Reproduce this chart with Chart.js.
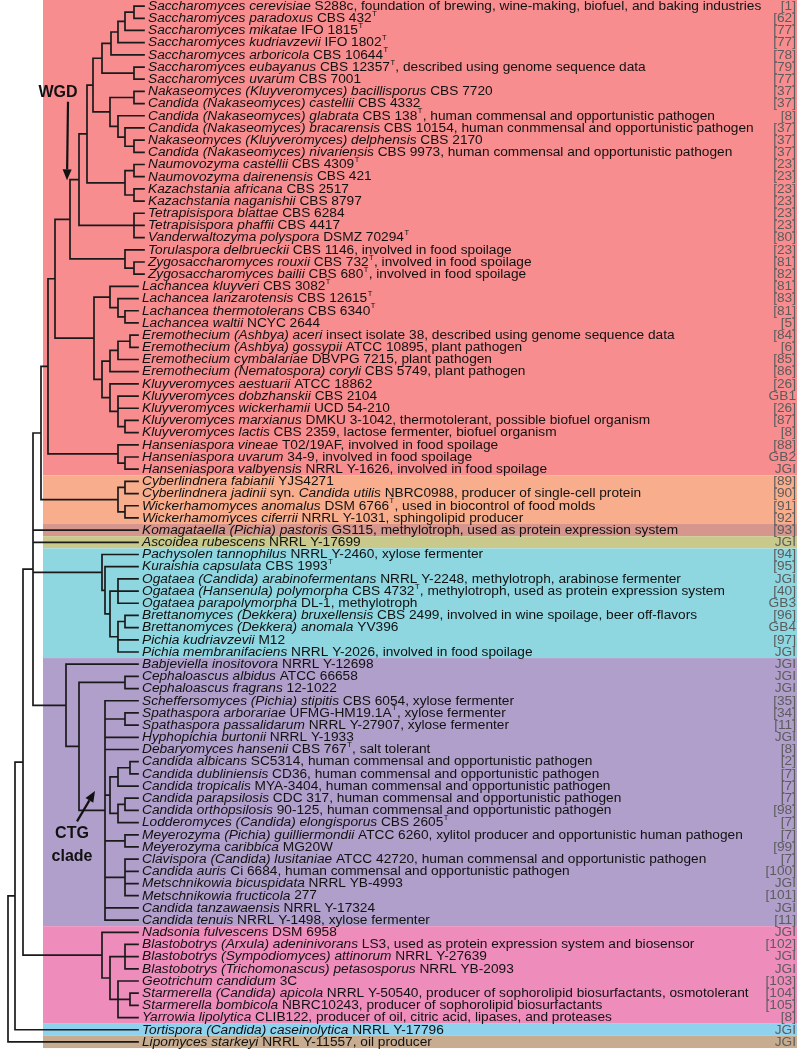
<!DOCTYPE html>
<html>
<head>
<meta charset="utf-8">
<script src="https://cdn.jsdelivr.net/npm/chart.js@4.4.1/dist/chart.umd.min.js"></script>
<style>
html, body { margin: 0; padding: 0; background: #fff; }
#wrap { width: 800px; height: 1050px; }
</style>
</head>
<body>
<div id="wrap"><canvas id="tree" width="800" height="1050"></canvas></div>
<script>
// leaf labels, *...* = italic, ^T = type strain superscript
const species = [
    '*Saccharomyces cerevisiae* S288c, foundation of brewing, wine-making, biofuel, and baking industries',
    '*Saccharomyces paradoxus* CBS 432^T',
    '*Saccharomyces mikatae* IFO 1815^T',
    '*Saccharomyces kudriavzevii* IFO 1802^T',
    '*Saccharomyces arboricola* CBS 10644^T',
    '*Saccharomyces eubayanus* CBS 12357^T, described using genome sequence data',
    '*Saccharomyces uvarum* CBS 7001',
    '*Nakaseomyces (Kluyveromyces) bacillisporus* CBS 7720',
    '*Candida (Nakaseomyces) castellii* CBS 4332',
    '*Candida (Nakaseomyces) glabrata* CBS 138^T, human commensal and opportunistic pathogen',
    '*Candida (Nakaseomyces) bracarensis* CBS 10154, human conmmensal and opportunistic pathogen',
    '*Nakaseomyces (Kluyveromyces) delphensis* CBS 2170',
    '*Candida (Nakaseomyces) nivariensis* CBS 9973, human commensal and opportunistic pathogen',
    '*Naumovozyma castellii* CBS 4309^T',
    '*Naumovozyma dairenensis* CBS 421',
    '*Kazachstania africana* CBS 2517',
    '*Kazachstania naganishii* CBS 8797',
    '*Tetrapisispora blattae* CBS 6284',
    '*Tetrapisispora phaffii* CBS 4417',
    '*Vanderwaltozyma polyspora* DSMZ 70294^T',
    '*Torulaspora delbrueckii* CBS 1146, involved in food spoilage',
    '*Zygosaccharomyces rouxii* CBS 732^T, involved in food spoilage',
    '*Zygosaccharomyces bailii* CBS 680^T, involved in food spoilage',
    '*Lachancea kluyveri* CBS 3082^T',
    '*Lachancea lanzarotensis* CBS 12615^T',
    '*Lachancea thermotolerans* CBS 6340^T',
    '*Lachancea waltii* NCYC 2644',
    '*Eremothecium (Ashbya) aceri* insect isolate 38, described using genome sequence data',
    '*Eremothecium (Ashbya) gossypii* ATCC 10895, plant pathogen',
    '*Eremothecium cymbalariae* DBVPG 7215, plant pathogen',
    '*Eremothecium (Nematospora) coryli* CBS 5749, plant pathogen',
    '*Kluyveromyces aestuarii* ATCC 18862',
    '*Kluyveromyces dobzhanskii* CBS 2104',
    '*Kluyveromyces wickerhamii* UCD 54-210',
    '*Kluyveromyces marxianus* DMKU 3-1042, thermotolerant, possible biofuel organism',
    '*Kluyveromyces lactis* CBS 2359, lactose fermenter, biofuel organism',
    '*Hanseniaspora vineae* T02/19AF, involved in food spoilage',
    '*Hanseniaspora uvarum* 34-9, involved in food spoilage',
    '*Hanseniaspora valbyensis* NRRL Y-1626, involved in food spoilage',
    '*Cyberlindnera fabianii* YJS4271',
    '*Cyberlindnera jadinii* syn. *Candida utilis* NBRC0988, producer of single-cell protein',
    '*Wickerhamomyces anomalus* DSM 6766^T, used in biocontrol of food molds',
    '*Wickerhamomyces ciferrii* NRRL Y-1031, sphingolipid producer',
    '*Komagataella (Pichia) pastoris* GS115, methylotroph, used as protein expression system',
    '*Ascoidea rubescens* NRRL Y-17699',
    '*Pachysolen tannophilus* NRRL Y-2460, xylose fermenter',
    '*Kuraishia capsulata* CBS 1993^T',
    '*Ogataea (Candida) arabinofermentans* NRRL Y-2248, methylotroph, arabinose fermenter',
    '*Ogataea (Hansenula) polymorpha* CBS 4732^T, methylotroph, used as protein expression system',
    '*Ogataea parapolymorpha* DL-1, methylotroph',
    '*Brettanomyces (Dekkera) bruxellensis* CBS 2499, involved in wine spoilage, beer off-flavors',
    '*Brettanomyces (Dekkera) anomala* YV396',
    '*Pichia kudriavzevii* M12',
    '*Pichia membranifaciens* NRRL Y-2026, involved in food spoilage',
    '*Babjeviella inositovora* NRRL Y-12698',
    '*Cephaloascus albidus* ATCC 66658',
    '*Cephaloascus fragrans* 12-1022',
    '*Scheffersomyces (Pichia) stipitis* CBS 6054, xylose fermenter',
    '*Spathaspora arborariae* UFMG-HM19.1A^T, xylose fermenter',
    '*Spathaspora passalidarum* NRRL Y-27907, xylose fermenter',
    '*Hyphopichia burtonii* NRRL Y-1933',
    '*Debaryomyces hansenii* CBS 767^T, salt tolerant',
    '*Candida albicans* SC5314, human commensal and opportunistic pathogen',
    '*Candida dubliniensis* CD36, human commensal and opportunistic pathogen',
    '*Candida tropicalis* MYA-3404, human commensal and opportunistic pathogen',
    '*Candida parapsilosis* CDC 317, human commensal and opportunistic pathogen',
    '*Candida orthopsilosis* 90-125, human commensal and opportunistic pathogen',
    '*Lodderomyces (Candida) elongisporus* CBS 2605^T',
    '*Meyerozyma (Pichia) guilliermondii* ATCC 6260, xylitol producer and opportunistic human pathogen',
    '*Meyerozyma caribbica* MG20W',
    '*Clavispora (Candida) lusitaniae* ATCC 42720, human commensal and opportunistic pathogen',
    '*Candida auris* Ci 6684, human commensal and opportunistic pathogen',
    '*Metschnikowia bicuspidata* NRRL YB-4993',
    '*Metschnikowia fructicola* 277',
    '*Candida tanzawaensis* NRRL Y-17324',
    '*Candida tenuis* NRRL Y-1498, xylose fermenter',
    '*Nadsonia fulvescens* DSM 6958',
    '*Blastobotrys (Arxula) adeninivorans* LS3, used as protein expression system and biosensor',
    '*Blastobotrys (Sympodiomyces) attinorum* NRRL Y-27639',
    '*Blastobotrys (Trichomonascus) petasosporus* NRRL YB-2093',
    '*Geotrichum candidum* 3C',
    '*Starmerella (Candida) apicola* NRRL Y-50540, producer of sophorolipid biosurfactants, osmotolerant',
    '*Starmerella bombicola* NBRC10243, producer of sophorolipid biosurfactants',
    '*Yarrowia lipolytica* CLIB122, producer of oil, citric acid, lipases, and proteases',
    '*Tortispora (Candida) caseinolytica* NRRL Y-17796',
    '*Lipomyces starkeyi* NRRL Y-11557, oil producer'
];

const refs = [
    '[1]', '[62]', '[77]', '[77]', '[78]', '[79]', '[77]', '[37]', '[37]', '[8]',
    '[37]', '[37]', '[37]', '[23]', '[23]', '[23]', '[23]', '[23]', '[23]', '[80]',
    '[23]', '[81]', '[82]', '[81]', '[83]', '[81]', '[5]', '[84]', '[6]', '[85]',
    '[86]', '[26]', 'GB1', '[26]', '[87]', '[8]', '[88]', 'GB2', 'JGI', '[89]',
    '[90]', '[91]', '[92]', '[93]', 'JGI', '[94]', '[95]', 'JGI', '[40]', 'GB3',
    '[96]', 'GB4', '[97]', 'JGI', 'JGI', 'JGI', 'JGI', '[35]', '[34]', '[11]',
    'JGI', '[8]', '[2]', '[7]', '[7]', '[7]', '[98]', '[7]', '[7]', '[99]',
    '[7]', '[100]', 'JGI', '[101]', 'JGI', '[11]', 'JGI', '[102]', 'JGI', 'JGI',
    '[103]', '[104]', '[105]', '[8]', 'JGI', 'JGI'
];

// x position of each leaf tip
const tipDepth = [
    144, 144, 144, 144, 144, 144, 144, 144, 144, 144,
    144, 144, 144, 144, 144, 144, 144, 144, 144, 144,
    144, 144, 144, 138, 138, 138, 138, 138, 138, 138,
    138, 138, 138, 138, 138, 138, 138, 138, 138, 138,
    138, 138, 138, 138, 138, 138, 138, 138, 138, 138,
    138, 138, 138, 138, 138, 138, 138, 138, 138, 138,
    138, 138, 138, 138, 138, 138, 138, 138, 138, 138,
    138, 138, 138, 138, 138, 138, 138, 138, 138, 138,
    138, 138, 138, 138, 138, 138
];

// internal nodes: [id, x position, children (leaf numbers or node ids)]
const nodes = [
    ['s1', 134, [1, 2]], ['s2', 125, ['s1', 3]], ['s3', 118, ['s2', 4]], ['s4', 111, ['s3', 5]],
    ['s5', 134, [6, 7]], ['s6', 102, ['s4', 's5']],
    ['n1', 134, [8, 9]], ['n2', 134, [12, 13]], ['n3', 125, [11, 'n2']], ['n4', 118, [10, 'n3']],
    ['n5', 110, ['n1', 'n4']], ['b', 93, ['s6', 'n5']],
    ['k1', 134, [14, 15]], ['k2', 134, [16, 17]], ['k3', 125, ['k1', 'k2']], ['c', 87, ['b', 'k3']],
    ['t1', 134, [18, 19, 20]], ['wgd', 79, ['c', 't1']],
    ['z1', 134, [22, 23]], ['z2', 125, [21, 'z1']], ['e', 70, ['wgd', 'z2']],
    ['l1', 125, [26, 27]], ['l2', 118, [25, 'l1']], ['l3', 110, [24, 'l2']],
    ['er1', 130, [28, 29]], ['er2', 118, ['er1', 30]], ['er3', 110, ['er2', 31]],
    ['kl1', 125, [35, 36]], ['kl2', 118, [33, 34, 'kl1']], ['kl3', 110, [32, 'kl2']],
    ['ek', 102, ['er3', 'kl3']], ['le', 94, ['l3', 'ek']], ['f', 55, ['e', 'le']],
    ['h1', 125, [38, 39]], ['h2', 118, [37, 'h1']], ['g', 48, ['f', 'h2']],
    ['cy1', 125, [40, 41]], ['cy2', 125, [42, 43]], ['cy3', 118, ['cy1', 'cy2']], ['h', 41, ['g', 'cy3']],
    ['og', 118, [48, 49, 50]], ['br', 125, [51, 52]], ['pi', 118, ['br', 53, 54]],
    ['pA', 110, ['og', 'pi']], ['pB', 105, [47, 'pA']], ['pich', 102, [46, 'pB']],
    ['ce', 125, [56, 57]], ['sp', 125, [59, 60]], ['a1', 130, [63, 64]], ['a2', 118, ['a1', 65]],
    ['p1', 125, [66, 67]], ['p2', 118, ['p1', 68]], ['a3', 110, ['a2', 'p2']],
    ['m', 125, [69, 70]], ['cl', 125, [71, 72, 73, 74]],
    ['R', 105, [58, 'sp', 61, 62, 'a3', 'm', 'cl', 75, 76]], ['Q', 79, ['ce', 'R']], ['ctg', 66, [55, 'Q']],
    ['P33', 33, ['h', 44, 45, 'pich', 'ctg']],
    ['bl', 125, [78, 79, 80]], ['st', 130, [82, 83]], ['y1', 118, [81, 'st', 84]],
    ['y2', 110, ['bl', 'y1']], ['y3', 102, [77, 'y2']],
    ['n23', 23, ['P33', 'y3']], ['n15', 15, ['n23', 85]], ['root', 8, ['n15', 86]]
];

// coloured clade bands: [first leaf, last leaf, colour]
const bands = [
    [1, 39, '#f78d8f'],
    [40, 43, '#f8ae8c'],
    [44, 44, '#d6968e'],
    [45, 45, '#c9c98c'],
    [46, 54, '#8ed6e0'],
    [55, 76, '#b09fcb'],
    [77, 84, '#ee8cbc'],
    [85, 85, '#8fd2ee'],
    [86, 86, '#c8ac90']
];

const BAND_LEFT = 43;
const FONT = "'Liberation Sans Narrow', 'Arial Narrow', sans-serif";
const FONT_SIZE = 13.7;

const nodeMap = {};
nodes.forEach(n => { nodeMap[n[0]] = { depth: n[1], kids: n[2] }; });

function pos(c){
    if(typeof c === 'number'){
        return { x: tipDepth[c - 1], y: c };
    }
    const n = nodeMap[c];
    if(n.y === undefined){
        const first = pos(n.kids[0]);
        const last = pos(n.kids[n.kids.length - 1]);
        n.y = (first.y + last.y) / 2;
    }
    return { x: n.depth, y: n.y };
}

const branchPoints = [];
nodes.forEach(([id, depth, kids]) => {
    const first = pos(kids[0]);
    const last = pos(kids[kids.length - 1]);
    branchPoints.push(
        { x: first.x, y: first.y }, { x: depth, y: first.y },
        { x: depth, y: last.y }, { x: last.x, y: last.y },
        { x: NaN, y: NaN }
    );
    kids.slice(1, -1).forEach(k => {
        const p = pos(k);
        branchPoints.push({ x: depth, y: p.y }, { x: p.x, y: p.y }, { x: NaN, y: NaN });
    });
});

function drawRich(ctx, text, x, y){
    let cx = x;
    text.split('*').forEach((part, i) => {
        const italic = i % 2 === 1;
        part.split('^T').forEach((bit, j) => {
            if(j > 0){
                ctx.font = `${FONT_SIZE * 0.55}px ${FONT}`;
                ctx.fillText('T', cx + 0.5, y - FONT_SIZE * 0.33);
                cx += ctx.measureText('T').width + 0.8;
            }
            ctx.font = `${italic ? 'italic ' : ''}${FONT_SIZE}px ${FONT}`;
            ctx.fillText(bit, cx, y);
            cx += ctx.measureText(bit).width;
        });
    });
}

function drawArrow(ctx, x1, y1, x2, y2){
    const ang = Math.atan2(y2 - y1, x2 - x1);
    const len = 11, wid = 4.5;
    const bx = x2 - Math.cos(ang) * len, by = y2 - Math.sin(ang) * len;
    ctx.beginPath();
    ctx.moveTo(x1, y1);
    ctx.lineTo(bx, by);
    ctx.lineWidth = 2.2;
    ctx.stroke();
    ctx.beginPath();
    ctx.moveTo(x2, y2);
    ctx.lineTo(bx + Math.sin(ang) * wid, by - Math.cos(ang) * wid);
    ctx.lineTo(bx - Math.sin(ang) * wid, by + Math.cos(ang) * wid);
    ctx.closePath();
    ctx.fill();
}

const bandPlugin = {
    id: 'bands',
    beforeDatasetsDraw(chart){
        const { ctx, scales: { x, y }, chartArea } = chart;
        ctx.save();
        bands.forEach(([a, b, color]) => {
            const top = y.getPixelForValue(a - 0.5);
            const bottom = y.getPixelForValue(b + 0.5);
            const left = x.getPixelForValue(BAND_LEFT);
            ctx.fillStyle = color;
            ctx.fillRect(left, top, chartArea.right - 3 - left, bottom - top);
        });
        ctx.restore();
    }
};

const labelPlugin = {
    id: 'labels',
    afterDatasetsDraw(chart){
        const { ctx, scales: { x, y }, chartArea } = chart;
        ctx.save();
        ctx.textBaseline = 'middle';
        ctx.fillStyle = '#111';
        species.forEach((s, i) => {
            ctx.textAlign = 'left';
            drawRich(ctx, s, x.getPixelForValue(tipDepth[i]) + 4, y.getPixelForValue(i + 1));
        });
        ctx.fillStyle = '#5c5c5c';
        ctx.textAlign = 'right';
        ctx.font = `${FONT_SIZE}px ${FONT}`;
        refs.forEach((r, i) => {
            ctx.fillText(r, chartArea.right - 4, y.getPixelForValue(i + 1));
        });

        // annotations
        ctx.fillStyle = '#111';
        ctx.strokeStyle = '#111';
        ctx.textAlign = 'center';
        ctx.font = `bold 16px 'Liberation Sans', Arial, sans-serif`;
        ctx.fillText('WGD', x.getPixelForValue(58), y.getPixelForValue(8.1));
        drawArrow(ctx, x.getPixelForValue(68), y.getPixelForValue(8.85),
                       x.getPixelForValue(67), y.getPixelForValue(15.3));
        ctx.fillText('CTG', x.getPixelForValue(72), y.getPixelForValue(68.9));
        ctx.fillText('clade', x.getPixelForValue(72), y.getPixelForValue(70.8));
        drawArrow(ctx, x.getPixelForValue(77), y.getPixelForValue(67.9),
                       x.getPixelForValue(95), y.getPixelForValue(65.4));
        ctx.restore();
    }
};

new Chart(document.getElementById('tree'), {
    type: 'scatter',
    data: {
        datasets: [{
            label: 'branches',
            data: branchPoints,
            showLine: true,
            spanGaps: false,
            borderColor: '#1a1a1a',
            borderWidth: 1.7,
            borderCapStyle: 'square',
            pointRadius: 0,
            pointHoverRadius: 0
        }]
    },
    options: {
        responsive: false,
        animation: false,
        layout: { padding: 0 },
        plugins: {
            legend: { display: false },
            tooltip: { enabled: false }
        },
        scales: {
            x: { type: 'linear', min: 0, max: 800, display: false },
            y: { type: 'linear', min: 0.5, max: 86.66, reverse: true, display: false }
        }
    },
    plugins: [bandPlugin, labelPlugin]
});
</script>
</body>
</html>
